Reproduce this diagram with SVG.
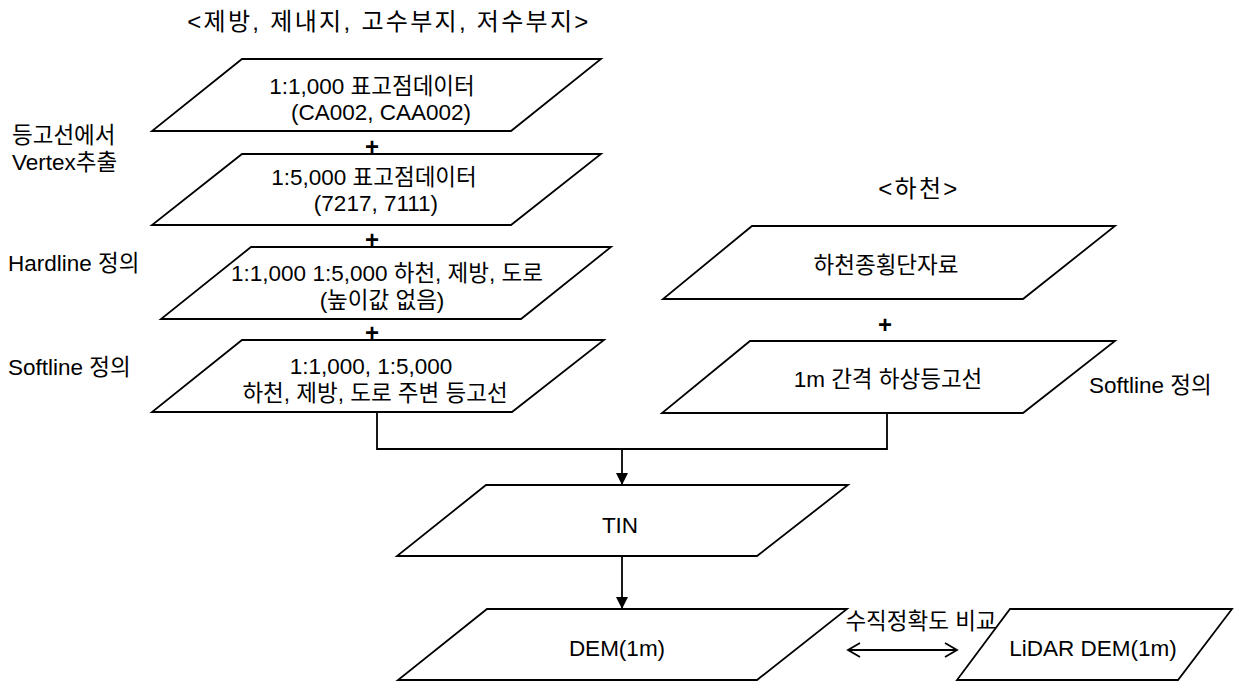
<svg xmlns="http://www.w3.org/2000/svg" width="1236" height="682" viewBox="0 0 1236 682">
<style>
.box{fill:#fff;stroke:#000;stroke-width:1.8;stroke-linejoin:miter}
.t{font-family:"Liberation Sans","Noto Sans CJK KR",sans-serif;font-size:22.5px;fill:#000}
.m{text-anchor:middle}
.title{font-size:24px;letter-spacing:2.3px}
.plus{font-size:24px;font-weight:bold}
.conn{fill:none;stroke:#000;stroke-width:1.8}
</style>
<defs>
<marker id="arrowFill" markerUnits="userSpaceOnUse" markerWidth="13" markerHeight="13" refX="12" refY="6" orient="auto">
<path d="M0,0 L12,6 L0,12 z" fill="#000"/>
</marker>
<marker id="arrowOpen" markerUnits="userSpaceOnUse" markerWidth="16" markerHeight="18" refX="13" refY="8" orient="auto-start-reverse">
<path d="M1,1 L13,8 L1,15" fill="none" stroke="#000" stroke-width="1.8"/>
</marker>
</defs>
<rect width="1236" height="682" fill="#fff"/>

<g id="labels">
<text class="t title m" x="389" y="30">&lt;제방, 제내지, 고수부지, 저수부지&gt;</text>
<text class="t title m" x="919" y="197">&lt;하천&gt;</text>
<text class="t" x="12" y="143">등고선에서</text>
<text class="t" x="12" y="170">Vertex추출</text>
<text class="t" x="8" y="271">Hardline 정의</text>
<text class="t" x="8" y="375">Softline 정의</text>
<text class="t" x="1089" y="393">Softline 정의</text>
<text class="t plus m" x="372" y="155">+</text>
<text class="t plus m" x="372" y="248">+</text>
<text class="t plus m" x="372" y="341">+</text>
<text class="t plus m" x="885" y="333">+</text>
<text class="t m" x="921" y="629">수직정확도 비교</text>
</g>

<g id="connectors">
<polyline class="conn" points="377,412 377,449 887,449 887,413"/>
<line class="conn" x1="622" y1="449" x2="622" y2="485" marker-end="url(#arrowFill)"/>
<line class="conn" x1="622" y1="556" x2="622" y2="609" marker-end="url(#arrowFill)"/>
<line class="conn" x1="848" y1="650" x2="957" y2="650" marker-start="url(#arrowOpen)" marker-end="url(#arrowOpen)"/>
</g>

<g id="n1">
<polygon class="box" points="242,59 601,59 511,131 152,131"/>
<text class="t m" x="372" y="94">1:1,000 표고점데이터</text>
<text class="t m" x="381" y="120">(CA002, CAA002)</text>
</g>
<g id="n2">
<polygon class="box" points="242,154 601,154 511,225 152,225"/>
<text class="t m" x="374" y="185">1:5,000 표고점데이터</text>
<text class="t m" x="376" y="211">(7217, 7111)</text>
</g>
<g id="n3">
<polygon class="box" points="251,247 611,247 521,319 161,319"/>
<text class="t m" x="387" y="281">1:1,000 1:5,000 하천, 제방, 도로</text>
<text class="t m" x="382" y="308">(높이값 없음)</text>
</g>
<g id="n4">
<polygon class="box" points="242,340 604,340 512,412 152,412"/>
<text class="t m" x="371" y="374">1:1,000, 1:5,000</text>
<text class="t m" x="375" y="401">하천, 제방, 도로 주변 등고선</text>
</g>
<g id="n5">
<polygon class="box" points="752,226 1115,226 1023,299 663,299"/>
<text class="t m" x="886" y="273">하천종횡단자료</text>
</g>
<g id="n6">
<polygon class="box" points="750,341 1115,341 1023,413 662,413"/>
<text class="t m" x="888" y="387">1m 간격 하상등고선</text>
</g>
<g id="n7">
<polygon class="box" points="486,485 848,485 757,556 397,556"/>
<text class="t m" x="620" y="533">TIN</text>
</g>
<g id="n8">
<polygon class="box" points="487,609 847,609 757,680 398,680"/>
<text class="t m" x="617" y="656">DEM(1m)</text>
</g>
<g id="n9">
<polygon class="box" points="1010,609 1232,609 1178,680 957,680"/>
<text class="t m" x="1093" y="656">LiDAR DEM(1m)</text>
</g>
</svg>
